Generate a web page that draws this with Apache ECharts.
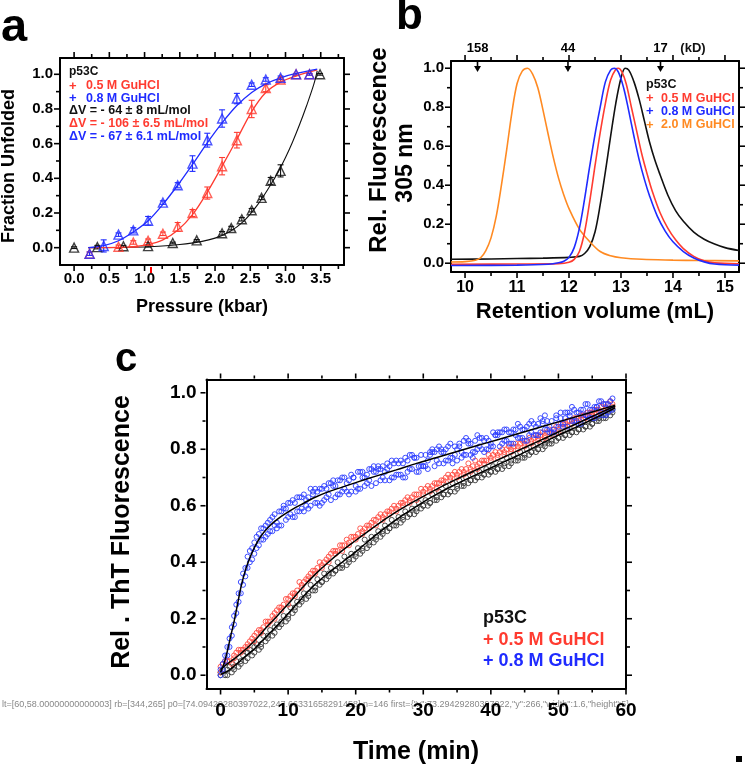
<!DOCTYPE html>
<html><head><meta charset="utf-8">
<script src="https://cdn.jsdelivr.net/npm/echarts@6/dist/echarts.min.js"></script>
<style>html,body{margin:0;padding:0;background:#fff}#c{width:745px;height:767px}</style>
</head><body><div id="c"></div>
<script>
// ---------------- Panel a: pressure denaturation ----------------
const aBlackP = [0, 0.33, 0.70, 1.05, 1.40, 1.74, 2.10, 2.23, 2.38, 2.52, 2.66, 2.79, 2.93, 3.49];
const aBlackF = [0.0, 0.003, 0.008, 0.009, 0.027, 0.042, 0.083, 0.113, 0.164, 0.216, 0.287, 0.385, 0.443, 1.0];
const aBlackE = [0.005, 0.01, 0.005, 0.005, 0.005, 0.005, 0.01, 0.01, 0.01, 0.01, 0.01, 0.02, 0.035, 0.005];
const aRedP = [0.22, 0.63, 0.84, 1.05, 1.26, 1.47, 1.68, 1.89, 2.10, 2.31, 2.52, 2.72, 2.93, 3.15, 3.34];
const aRedF = [-0.035, 0.005, 0.03, 0.04, 0.08, 0.12, 0.20, 0.315, 0.47, 0.62, 0.80, 0.92, 0.97, 1.0, 1.0];
const aRedE = [0.01, 0.01, 0.01, 0.01, 0.01, 0.025, 0.02, 0.035, 0.05, 0.045, 0.05, 0.02, 0.01, 0.005, 0.005];
const aBlueP = [0.22, 0.42, 0.63, 0.84, 1.05, 1.26, 1.47, 1.68, 1.89, 2.10, 2.31, 2.52, 2.72, 2.93, 3.15, 3.34];
const aBlueF = [-0.035, 0.01, 0.075, 0.10, 0.155, 0.26, 0.36, 0.485, 0.62, 0.745, 0.86, 0.94, 0.97, 0.98, 1.0, 1.0];
const aBlueE = [0.01, 0.035, 0.01, 0.015, 0.025, 0.01, 0.015, 0.045, 0.04, 0.05, 0.03, 0.01, 0.01, 0.01, 0.005, 0.005];
const aFitBlackP = [0.2, 0.8, 1.2, 1.5, 1.8, 2.0, 2.2, 2.4, 2.6, 2.8, 2.9, 3.0, 3.1, 3.2, 3.3, 3.4, 3.45];
const aFitBlackF = [0.0, 0.002, 0.008, 0.018, 0.035, 0.055, 0.09, 0.15, 0.245, 0.37, 0.44, 0.52, 0.61, 0.71, 0.82, 0.94, 1.02];
const aFitRedP = [0.2, 0.63, 0.84, 1.05, 1.26, 1.47, 1.68, 1.89, 2.10, 2.31, 2.52, 2.72, 2.93, 3.15, 3.45];
const aFitRedF = [0.0, 0.002, 0.006, 0.018, 0.045, 0.10, 0.19, 0.32, 0.47, 0.625, 0.785, 0.895, 0.955, 0.99, 1.025];
const aFitBlueP = [0.2, 0.42, 0.63, 0.84, 1.05, 1.26, 1.47, 1.68, 1.89, 2.10, 2.31, 2.52, 2.72, 2.93, 3.15, 3.45];
const aFitBlueF = [0.0, 0.012, 0.04, 0.09, 0.155, 0.25, 0.36, 0.48, 0.605, 0.72, 0.82, 0.895, 0.945, 0.98, 1.005, 1.03];
const aXTicks = [0, 0.5, 1.0, 1.5, 2.0, 2.5, 3.0, 3.5];
const aXMinor = [0.25, 0.75, 1.25, 1.75, 2.25, 2.75, 3.25, 3.75];
const aYTicks = [0, 0.2, 0.4, 0.6, 0.8, 1.0];
const aYMinor = [0.1, 0.3, 0.5, 0.7, 0.9];

// ---------------- Panel b: SEC elution profiles ----------------
const bOrangeV = [9.73, 10.0, 10.2, 10.3, 10.4, 10.5, 10.6, 10.7, 10.8, 10.9, 11.0, 11.1, 11.2, 11.3, 11.4, 11.5, 11.6, 11.7, 11.8, 11.9, 12.0, 12.2, 12.4, 12.6, 12.8, 13.0, 13.4, 14.0, 14.5, 15.27];
const bOrangeF = [0.006, 0.008, 0.015, 0.028, 0.065, 0.13, 0.24, 0.40, 0.58, 0.77, 0.92, 0.985, 1.0, 0.97, 0.90, 0.785, 0.66, 0.54, 0.435, 0.35, 0.28, 0.175, 0.11, 0.06, 0.038, 0.028, 0.02, 0.016, 0.014, 0.012];
const bBlueV = [9.73, 11.0, 11.6, 11.8, 11.9, 12.0, 12.1, 12.2, 12.3, 12.4, 12.5, 12.6, 12.7, 12.8, 12.87, 12.95, 13.05, 13.15, 13.25, 13.35, 13.45, 13.55, 13.7, 13.85, 14.0, 14.2, 14.4, 14.6, 14.8, 15.27];
const bBlueF = [-0.012, -0.01, -0.005, 0.002, 0.01, 0.03, 0.08, 0.18, 0.33, 0.50, 0.66, 0.80, 0.93, 0.99, 1.0, 0.98, 0.90, 0.78, 0.65, 0.53, 0.43, 0.345, 0.24, 0.165, 0.11, 0.06, 0.027, 0.007, -0.004, -0.01];
const bRedV = [9.73, 11.0, 11.8, 12.0, 12.1, 12.2, 12.3, 12.4, 12.5, 12.6, 12.7, 12.8, 12.9, 12.95, 13.02, 13.1, 13.2, 13.3, 13.4, 13.5, 13.6, 13.75, 13.9, 14.05, 14.2, 14.4, 14.6, 14.8, 15.27];
const bRedF = [-0.005, -0.004, -0.002, 0.005, 0.02, 0.06, 0.16, 0.32, 0.50, 0.67, 0.82, 0.94, 0.995, 1.0, 0.98, 0.92, 0.80, 0.68, 0.56, 0.46, 0.37, 0.26, 0.18, 0.12, 0.075, 0.035, 0.012, 0.002, -0.003];
const bBlackV = [9.73, 10.5, 11.0, 11.5, 12.0, 12.2, 12.3, 12.4, 12.5, 12.6, 12.7, 12.8, 12.9, 13.0, 13.08, 13.15, 13.25, 13.35, 13.45, 13.55, 13.65, 13.75, 13.9, 14.05, 14.2, 14.4, 14.6, 14.8, 15.0, 15.27];
const bBlackF = [0.02, 0.022, 0.024, 0.026, 0.03, 0.035, 0.05, 0.085, 0.16, 0.30, 0.47, 0.65, 0.82, 0.95, 1.0, 0.99, 0.93, 0.84, 0.73, 0.62, 0.53, 0.455, 0.35, 0.27, 0.215, 0.16, 0.123, 0.098, 0.08, 0.065];
const bMarkerV = [10.24, 11.98, 13.76];
const bMarkerLabels = ['158', '44', '17'];
const bXTicks = [10, 11, 12, 13, 14, 15];
const bXMinor = [10.5, 11.5, 12.5, 13.5, 14.5];
const bYTicks = [0, 0.2, 0.4, 0.6, 0.8, 1.0];
const bYMinor = [0.1, 0.3, 0.5, 0.7, 0.9];

// ---------------- Panel c: ThT kinetics ----------------
const tA = [0,1,2,3,4,5,6,7,8,9,10,11,12,13,14,15,16,17,18,19,20,21,22,23,24,25,26,27,28,29,30,31,32,33,34,35,36,37,38,39,40,41,42,43,44,45,46,47,48,49,50,51,52,53,54,55,56,57,58];
const tB = [0.33,1.33,2.33,3.33,4.33,5.33,6.33,7.33,8.33,9.33,10.33,11.33,12.33,13.33,14.33,15.33,16.33,17.33,18.33,19.33,20.33,21.33,22.33,23.33,24.33,25.33,26.33,27.33,28.33,29.33,30.33,31.33,32.33,33.33,34.33,35.33,36.33,37.33,38.33,39.33,40.33,41.33,42.33,43.33,44.33,45.33,46.33,47.33,48.33,49.33,50.33,51.33,52.33,53.33,54.33,55.33,56.33,57.33];
const tC = [0.67,1.67,2.67,3.67,4.67,5.67,6.67,7.67,8.67,9.67,10.67,11.67,12.67,13.67,14.67,15.67,16.67,17.67,18.67,19.67,20.67,21.67,22.67,23.67,24.67,25.67,26.67,27.67,28.67,29.67,30.67,31.67,32.67,33.67,34.67,35.67,36.67,37.67,38.67,39.67,40.67,41.67,42.67,43.67,44.67,45.67,46.67,47.67,48.67,49.67,50.67,51.67,52.67,53.67,54.67,55.67,56.67,57.67];
const blueA = [0.02,0.07,0.21,0.29,0.42,0.43,0.52,0.50,0.57,0.53,0.61,0.56,0.63,0.59,0.66,0.61,0.68,0.63,0.70,0.64,0.65,0.72,0.73,0.68,0.74,0.69,0.76,0.70,0.78,0.72,0.74,0.79,0.80,0.75,0.82,0.76,0.83,0.78,0.85,0.79,0.81,0.86,0.87,0.82,0.89,0.83,0.90,0.85,0.92,0.86,0.88,0.93,0.95,0.89,0.96,0.91,0.97,0.92,0.98];
const blueB = [0.04,0.13,0.22,0.36,0.40,0.49,0.48,0.55,0.54,0.60,0.57,0.58,0.64,0.60,0.65,0.67,0.62,0.69,0.66,0.65,0.72,0.70,0.67,0.73,0.72,0.70,0.75,0.77,0.73,0.74,0.78,0.79,0.75,0.80,0.77,0.81,0.84,0.79,0.81,0.84,0.81,0.86,0.83,0.87,0.84,0.88,0.89,0.86,0.90,0.87,0.91,0.93,0.90,0.94,0.92,0.95,0.93,0.96];
const blueC = [0.05,0.17,0.26,0.38,0.45,0.46,0.53,0.51,0.58,0.55,0.62,0.58,0.62,0.64,0.60,0.66,0.69,0.64,0.68,0.70,0.66,0.71,0.74,0.69,0.73,0.75,0.71,0.76,0.77,0.74,0.76,0.74,0.79,0.81,0.78,0.79,0.82,0.83,0.80,0.83,0.85,0.82,0.86,0.85,0.87,0.85,0.88,0.89,0.88,0.91,0.89,0.92,0.93,0.91,0.94,0.95,0.92,0.97];
const blueD = [0.00,0.10,0.18,0.33,0.38,0.47,0.48,0.54,0.53,0.58,0.56,0.61,0.59,0.63,0.61,0.66,0.64,0.67,0.65,0.69,0.67,0.70,0.69,0.72,0.70,0.74,0.71,0.75,0.73,0.77,0.74,0.78,0.76,0.79,0.77,0.80,0.78,0.82,0.80,0.83,0.82,0.85,0.83,0.86,0.84,0.87,0.86,0.89,0.87,0.90,0.89,0.91,0.90,0.93,0.92,0.94,0.92,0.96,0.94];
const blueE = [0.02,0.10,0.25,0.32,0.44,0.45,0.52,0.51,0.52,0.59,0.61,0.63,0.58,0.66,0.61,0.62,0.68,0.64,0.70,0.71,0.66,0.67,0.73,0.74,0.69,0.76,0.71,0.70,0.78,0.72,0.74,0.80,0.81,0.76,0.75,0.82,0.78,0.77,0.84,0.80,0.86,0.81,0.87,0.82,0.88,0.83,0.85,0.91,0.87,0.86,0.93,0.88,0.94,0.89,0.96,0.91,0.97,0.93];
const blueF = [0.07,0.14,0.29,0.35,0.41,0.50,0.49,0.56,0.53,0.59,0.56,0.63,0.60,0.65,0.66,0.63,0.67,0.69,0.65,0.70,0.72,0.68,0.72,0.73,0.75,0.70,0.76,0.72,0.77,0.78,0.73,0.79,0.80,0.76,0.81,0.77,0.83,0.79,0.84,0.80,0.85,0.86,0.82,0.87,0.84,0.89,0.85,0.90,0.86,0.92,0.88,0.93,0.90,0.94,0.91,0.95,0.96,0.94];
const redA = [0.03,0.05,0.07,0.09,0.11,0.14,0.16,0.19,0.22,0.24,0.27,0.29,0.32,0.35,0.37,0.39,0.42,0.44,0.46,0.47,0.49,0.51,0.53,0.55,0.56,0.58,0.59,0.61,0.62,0.64,0.65,0.66,0.68,0.69,0.70,0.71,0.72,0.73,0.74,0.76,0.77,0.78,0.79,0.80,0.81,0.82,0.83,0.84,0.85,0.86,0.87,0.89,0.90,0.91,0.92,0.93,0.94,0.95,0.96];
const redB = [0.04,0.05,0.08,0.09,0.12,0.15,0.17,0.19,0.23,0.25,0.28,0.30,0.33,0.36,0.38,0.40,0.43,0.44,0.46,0.49,0.50,0.52,0.54,0.56,0.57,0.59,0.60,0.62,0.63,0.64,0.66,0.67,0.68,0.70,0.71,0.72,0.73,0.74,0.75,0.76,0.78,0.79,0.80,0.81,0.82,0.83,0.84,0.85,0.86,0.87,0.89,0.90,0.91,0.92,0.93,0.94,0.95,0.96];
const redC = [0.05,0.04,0.09,0.10,0.13,0.16,0.19,0.21,0.24,0.27,0.29,0.33,0.34,0.37,0.40,0.41,0.44,0.46,0.48,0.49,0.52,0.53,0.55,0.57,0.58,0.60,0.61,0.63,0.64,0.66,0.67,0.68,0.69,0.71,0.72,0.73,0.75,0.76,0.76,0.78,0.79,0.80,0.81,0.82,0.83,0.84,0.85,0.86,0.87,0.88,0.89,0.90,0.91,0.92,0.93,0.94,0.96,0.97];
const redD = [0.01,0.05,0.06,0.08,0.10,0.12,0.15,0.18,0.20,0.23,0.25,0.28,0.31,0.34,0.36,0.38,0.40,0.43,0.44,0.46,0.48,0.50,0.52,0.53,0.55,0.57,0.58,0.60,0.61,0.62,0.64,0.65,0.66,0.68,0.69,0.70,0.71,0.72,0.73,0.75,0.76,0.77,0.78,0.79,0.80,0.81,0.82,0.83,0.84,0.85,0.86,0.88,0.89,0.90,0.91,0.92,0.93,0.94,0.95];
const blackA = [0.01,0.00,0.02,0.04,0.06,0.08,0.10,0.13,0.15,0.18,0.20,0.23,0.26,0.28,0.30,0.33,0.35,0.37,0.38,0.40,0.42,0.44,0.46,0.48,0.50,0.52,0.53,0.55,0.57,0.58,0.60,0.61,0.62,0.64,0.65,0.66,0.67,0.69,0.70,0.71,0.72,0.73,0.74,0.75,0.76,0.77,0.79,0.80,0.81,0.82,0.84,0.85,0.86,0.87,0.88,0.89,0.90,0.91,0.93];
const blackB = [0.02,0.03,0.05,0.07,0.09,0.11,0.14,0.16,0.18,0.21,0.24,0.26,0.29,0.32,0.34,0.36,0.38,0.40,0.42,0.43,0.45,0.48,0.49,0.51,0.53,0.55,0.56,0.58,0.59,0.61,0.62,0.64,0.65,0.67,0.68,0.69,0.70,0.71,0.72,0.73,0.74,0.75,0.77,0.78,0.79,0.80,0.81,0.82,0.83,0.85,0.86,0.87,0.88,0.89,0.90,0.91,0.92,0.94];
const blackC = [0.00,0.01,0.03,0.05,0.07,0.09,0.12,0.14,0.17,0.19,0.22,0.25,0.27,0.30,0.32,0.34,0.36,0.38,0.39,0.41,0.43,0.45,0.47,0.49,0.51,0.53,0.54,0.56,0.57,0.59,0.60,0.62,0.63,0.64,0.65,0.67,0.68,0.69,0.70,0.71,0.72,0.73,0.74,0.76,0.77,0.78,0.79,0.80,0.82,0.83,0.84,0.85,0.86,0.87,0.88,0.90,0.91,0.92];
const blackD = [0.00,0.02,0.03,0.05,0.08,0.10,0.11,0.14,0.17,0.19,0.21,0.24,0.27,0.29,0.31,0.33,0.36,0.37,0.39,0.41,0.43,0.45,0.47,0.49,0.51,0.52,0.54,0.56,0.57,0.59,0.60,0.61,0.63,0.64,0.65,0.67,0.68,0.69,0.70,0.71,0.72,0.73,0.75,0.76,0.77,0.78,0.79,0.80,0.82,0.83,0.84,0.85,0.86,0.87,0.88,0.89,0.91,0.92,0.94];
const cFitT = [0,0.5,1,1.5,2,2.5,3,3.5,4,5,6,7,8,10,12,14,16,18,20,23,26,29,32,35,38,41,44,47,50,53,56,58.4];
const cFitBlue = [0.01,0.04,0.085,0.138,0.19,0.25,0.31,0.357,0.395,0.452,0.493,0.522,0.545,0.578,0.605,0.63,0.65,0.666,0.682,0.705,0.727,0.75,0.771,0.792,0.813,0.834,0.855,0.876,0.897,0.918,0.939,0.956];
const cFitRed = [0.02,0.03,0.04,0.049,0.058,0.067,0.077,0.087,0.098,0.121,0.148,0.175,0.2,0.252,0.307,0.357,0.401,0.441,0.477,0.53,0.578,0.62,0.659,0.695,0.729,0.762,0.795,0.828,0.861,0.894,0.927,0.953];
const cFitBlack = [0.003,0.008,0.014,0.022,0.032,0.042,0.053,0.063,0.073,0.093,0.118,0.142,0.166,0.218,0.272,0.322,0.363,0.4,0.437,0.497,0.551,0.598,0.641,0.678,0.712,0.745,0.778,0.814,0.85,0.883,0.917,0.947];
const cXTicks = [0, 10, 20, 30, 40, 50, 60];
const cXMinor = [5, 15, 25, 35, 45, 55];
const cYTicks = [0, 0.2, 0.4, 0.6, 0.8, 1.0];
const cYMinor = [0.1, 0.3, 0.5, 0.7, 0.9];

// ---------------- rendering ----------------
const FONT = '"Liberation Sans", Arial, Helvetica, sans-serif';
const BLUE = '#1f2bff', RED = '#ff3b30', ORANGE = '#ff8a22', BLACK = '#111111';
const zip = (xs, ys) => xs.map((x, i) => [x, ys[i]]);
const zip3 = (xs, ys, es) => xs.map((x, i) => [x, ys[i], es[i]]);

const xAxes = [], yAxes = [], series = [], panelFrames = [];
const AX_PER_GRID = 2;
function frame(g, o) {
  const line = {show: true, onZero: false, lineStyle: {color: '#000', width: 2}};
  const lab = (vals, fmt, size, margin) => ({show: true, customValues: vals, formatter: fmt, fontSize: size, fontWeight: 'bold', color: '#000', fontFamily: FONT, margin: margin});
  const base = {type: 'value', gridIndex: g, splitLine: {show: false}, axisTick: {show: false}};
  xAxes.push(
    {...base, min: o.x[0], max: o.x[1], position: 'bottom', axisLine: line, axisLabel: lab(o.xt, o.xf, o.xs, o.xm)},
    {...base, min: o.x[0], max: o.x[1], position: 'top', axisLine: line, axisLabel: {show: false}}
  );
  yAxes.push(
    {...base, min: o.y[0], max: o.y[1], position: 'left', axisLine: line, axisLabel: lab(o.yt, o.yf, o.ys, o.ym)},
    {...base, min: o.y[0], max: o.y[1], position: 'right', axisLine: line, axisLabel: {show: false}}
  );
  panelFrames.push({g: g, o: o});
}
const f1 = v => v.toFixed(1), f0 = v => String(Math.round(v));
frame(0, {x: [-0.2, 3.83], y: [-0.1, 1.094], xt: aXTicks, xn: aXMinor, yt: aYTicks, yn: aYMinor, xf: f1, yf: f1, xs: 15, ys: 15, xm: 6, ym: 7});
frame(1, {x: [9.73, 15.27], y: [-0.045, 1.037], xt: bXTicks, xn: bXMinor, yt: bYTicks, yn: bYMinor, xf: f0, yf: f1, xs: 16, ys: 15, xm: 8, ym: 7});
frame(2, {x: [-2.08, 60], y: [-0.047, 1.047], xt: cXTicks, xn: cXMinor, yt: cYTicks, yn: cYMinor, xf: f0, yf: f1, xs: 19, ys: 19, xm: 13, ym: 10});
const IA = 0, IB = AX_PER_GRID, IC = 2 * AX_PER_GRID;

function errSeries(data, color) {
  return {type: 'custom', xAxisIndex: IA, yAxisIndex: IA, z: 2, data: data, encode: {x: 0, y: 1},
    renderItem: (p, api) => {
      const x = api.value(0), y = api.value(1), e = api.value(2);
      const a = api.coord([x, y - e]), b = api.coord([x, y + e]);
      const st = {stroke: color, lineWidth: 1.1};
      return {type: 'group', children: [
        {type: 'line', shape: {x1: a[0], y1: a[1], x2: b[0], y2: b[1]}, style: st},
        {type: 'line', shape: {x1: a[0] - 3, y1: a[1], x2: a[0] + 3, y2: a[1]}, style: st},
        {type: 'line', shape: {x1: b[0] - 3, y1: b[1], x2: b[0] + 3, y2: b[1]}, style: st}
      ]};
    }};
}
function fitLine(xi, xs, ys, color, w, z) {
  return {type: 'line', xAxisIndex: xi, yAxisIndex: xi, data: zip(xs, ys), smooth: 0.35, showSymbol: false, symbol: 'none',
    lineStyle: {color: color, width: w}, z: z, silent: true};
}
function tri(xs, ys, color) {
  return {type: 'scatter', xAxisIndex: IA, yAxisIndex: IA, data: zip(xs, ys), symbol: 'triangle', symbolSize: 9, z: 4,
    itemStyle: {color: 'rgba(255,255,255,0)', borderColor: color, borderWidth: 1.4}};
}
series.push(errSeries(zip3(aBlackP, aBlackF, aBlackE), BLACK), errSeries(zip3(aRedP, aRedF, aRedE), RED), errSeries(zip3(aBlueP, aBlueF, aBlueE), BLUE));
series.push(fitLine(IA, aFitBlackP, aFitBlackF, BLACK, 1.1, 3), fitLine(IA, aFitRedP, aFitRedF, RED, 1.3, 3), fitLine(IA, aFitBlueP, aFitBlueF, BLUE, 1.3, 3));
series.push(tri(aBlackP, aBlackF, BLACK), tri(aRedP, aRedF, RED), tri(aBlueP, aBlueF, BLUE));
series.push(fitLine(IB, bBlackV, bBlackF, BLACK, 1.6, 3), fitLine(IB, bOrangeV, bOrangeF, ORANGE, 1.6, 3), fitLine(IB, bRedV, bRedF, RED, 1.6, 3), fitLine(IB, bBlueV, bBlueF, BLUE, 1.6, 3));
series.push({type: 'custom', xAxisIndex: IB, yAxisIndex: IB, z: 5, data: bMarkerV.map(v => [v, 1]), encode: {x: 0, y: 1},
  renderItem: (p, api) => {
    const x = api.coord([api.value(0), 1])[0];
    const top = p.coordSys.y;
    return {type: 'group', children: [
      {type: 'line', shape: {x1: x, y1: top, x2: x, y2: top + 7}, style: {stroke: '#000', lineWidth: 1.6}},
      {type: 'polygon', shape: {points: [[x - 3.5, top + 5], [x + 3.5, top + 5], [x, top + 11]]}, style: {fill: '#000'}},
      {type: 'text', x: x, y: top - 13, style: {text: bMarkerLabels[p.dataIndex], font: 'bold 13px ' + FONT, fill: '#000', align: 'center', verticalAlign: 'middle'}}
    ]};
  }});
function dots(ts, ys, color) {
  return {type: 'scatter', xAxisIndex: IC, yAxisIndex: IC, data: zip(ts, ys), symbol: 'circle', symbolSize: 5, z: 2, silent: true,
    itemStyle: {color: 'rgba(255,255,255,0)', borderColor: color, borderWidth: 1, opacity: 0.9}};
}
const CB = '#2a3cff', CR = '#ff4a40', CK = '#3a3a3a';
series.push(dots(tA, blackA, CK), dots(tB, blackB, CK), dots(tC, blackC, CK), dots(tA, blackD, CK));
series.push(dots(tA, redA, CR), dots(tB, redB, CR), dots(tC, redC, CR), dots(tA, redD, CR));
series.push(dots(tA, blueA, CB), dots(tB, blueB, CB), dots(tC, blueC, CB), dots(tA, blueD, CB), dots(tB, blueE, CB), dots(tC, blueF, CB));
series.push(fitLine(IC, cFitT, cFitBlack, '#000', 1.5, 4), fitLine(IC, cFitT, cFitRed, '#000', 1.5, 4), fitLine(IC, cFitT, cFitBlue, '#000', 1.5, 4));

function txt(x, y, text, size, color, opts) {
  return Object.assign({type: 'text', x: x, y: y,
    style: {text: text, font: 'bold ' + size + 'px ' + FONT, fill: color || '#000', align: 'left', verticalAlign: 'middle'}}, opts || {});
}
function ctxt(x, y, text, size, rot) {
  const t = txt(x, y, text, size, '#000', rot ? {rotation: rot} : {});
  t.style.align = 'center';
  return t;
}
const graphic = [
  txt(1, 28, 'a', 47), txt(396, 17, 'b', 44), txt(115, 360, 'c', 40),
  ctxt(9, 166, 'Fraction Unfolded', 18, Math.PI / 2),
  ctxt(202, 307, 'Pressure (kbar)', 18),
  ctxt(379, 150, 'Rel. Fluorescence', 24, Math.PI / 2),
  ctxt(406, 163, '305 nm', 23, Math.PI / 2),
  ctxt(595, 312, 'Retention volume (mL)', 22),
  ctxt(122, 532, 'Rel . ThT Fluorescence', 25, Math.PI / 2),
  ctxt(416, 752, 'Time (min)', 25),
  txt(69, 72, 'p53C', 12, BLACK),
  txt(69, 86, '+', 13, RED), txt(86, 86, '0.5 M GuHCl', 12.5, RED),
  txt(69, 98.5, '+', 13, BLUE), txt(86, 98.5, '0.8 M GuHCl', 12.5, BLUE),
  txt(69, 110.5, 'ΔV = - 64 ± 8 mL/mol', 12.5, BLACK),
  txt(69, 123.5, 'ΔV = - 106 ± 6.5 mL/mol', 12.5, RED),
  txt(69, 136.5, 'ΔV = - 67 ± 6.1 mL/mol', 12.5, BLUE),
  txt(646, 85, 'p53C', 12.5, BLACK),
  txt(646, 98.5, '+', 13, RED), txt(661, 98.5, '0.5 M GuHCl', 12.5, RED),
  txt(646, 111.5, '+', 13, BLUE), txt(661, 111.5, '0.8 M GuHCl', 12.5, BLUE),
  txt(646, 125, '+', 13, ORANGE), txt(661, 125, '2.0 M GuHCl', 12.5, ORANGE),
  txt(693, 48, '(kD)', 13, BLACK, {}),
  txt(483, 618, 'p53C', 18, BLACK),
  txt(483, 640, '+ 0.5 M GuHCl', 18, RED),
  txt(483, 661, '+ 0.8 M GuHCl', 18, BLUE)
];
graphic[graphic.length - 4].style.align = 'center';

const chart = echarts.init(document.getElementById('c'));
chart.setOption({
  animation: false,
  grid: [
    {left: 60, top: 58, width: 284, height: 207},
    {left: 451, top: 61, width: 288, height: 211},
    {left: 206.5, top: 379.5, width: 419.5, height: 309}
  ],
  xAxis: xAxes,
  yAxis: yAxes,
  series: series
});

const tickEls = [];
let dbg = '';
try {
  panelFrames.forEach(function (pf) {
    const o = pf.o;
    const P = function (x, y) { return chart.convertToPixel({gridIndex: pf.g}, [x, y]); };
    const lt = P(o.x[0], o.y[1]), rb = P(o.x[1], o.y[0]);
    if (pf.g === 0) dbg += 'lt=' + JSON.stringify(lt) + ' rb=' + JSON.stringify(rb) + ' p0=' + JSON.stringify(P(0, 0));
    const L = lt[0] - 1, T = lt[1] - 1, R = rb[0] + 1, B = rb[1] + 1;
    function vt(x, y0, len) { tickEls.push({type: 'rect', shape: {x: x - 0.8, y: len > 0 ? y0 : y0 + len, width: 1.6, height: Math.abs(len)}, style: {fill: '#000'}}); }
    function ht(x0, y, len) { tickEls.push({type: 'rect', shape: {x: len > 0 ? x0 : x0 + len, y: y - 0.8, width: Math.abs(len), height: 1.6}, style: {fill: '#000'}}); }
    [[o.xt, 5], [o.xn, 3]].forEach(function (pair) {
      pair[0].forEach(function (v) { const x = P(v, o.y[0])[0]; vt(x, B, pair[1]); vt(x, T, -pair[1]); });
    });
    [[o.yt, 5], [o.yn, 3]].forEach(function (pair) {
      pair[0].forEach(function (v) { const y = P(o.x[0], v)[1]; ht(L, y, -pair[1]); ht(R, y, pair[1]); });
    });
  });
} catch (e) { dbg += ' ERR ' + e.message; }
dbg += ' n=' + tickEls.length + ' first=' + (tickEls[0] ? JSON.stringify(tickEls[0].shape) : 'none');
const dbgEls = [
  {type: 'text', x: 2, y: 700, style: {text: dbg, font: '9px sans-serif', fill: '#888'}},
  {type: 'rect', shape: {x: 736, y: 756, width: 6, height: 6}, style: {fill: '#000'}},
  {type: 'rect', shape: {x: 150, y: 267, width: 2, height: 6}, style: {fill: '#f00'}}
];
chart.setOption({graphic: graphic.concat(tickEls).concat(dbgEls)});
</script>
</body></html>
